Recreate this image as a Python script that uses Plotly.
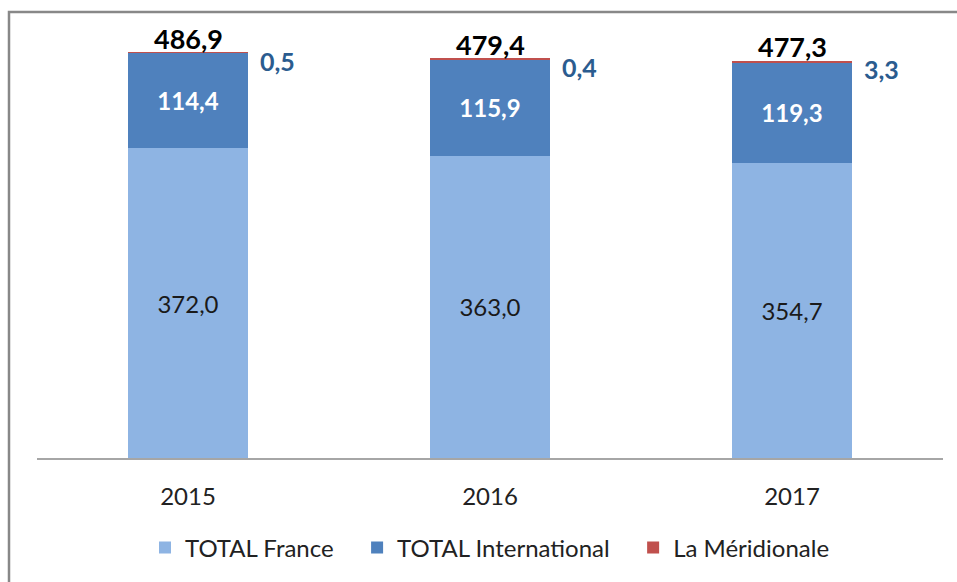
import plotly.graph_objects as go

years = ["2015", "2016", "2017"]
france = [372.0, 363.0, 354.7]
international = [114.4, 115.9, 119.3]
meridionale = [0.5, 0.4, 3.3]
totals = [486.9, 479.4, 477.3]
series_names = ["TOTAL France", "TOTAL International", "La Méridionale"]

def fr(v):
    return f"{v:.1f}".replace(".", ",")

FONT = "Lato"
PAD = "\u00a0\u00a0\u00a0"
fig = go.Figure()
fig.add_bar(x=years, y=france, name=series_names[0] + PAD, marker_color="#8EB4E3",
            marker_line_width=0,
            text=[fr(v) for v in france], textposition="inside", insidetextanchor="middle",
            textfont=dict(family=FONT, size=24, color="#1a1a1a"), textangle=0)
fig.add_bar(x=years, y=international, name=series_names[1] + PAD, marker_color="#4F81BD",
            marker_line_width=0,
            text=[fr(v) for v in international], textposition="inside", insidetextanchor="middle",
            textfont=dict(family=FONT, size=24, color="white", weight="bold"), textangle=0)
fig.add_bar(x=years, y=meridionale, name=series_names[2], marker_color="#C0504D",
            marker_line_width=0, textposition="none")

annotations = []
for i, (t, m) in enumerate(zip(totals, meridionale)):
    annotations.append(dict(x=i, y=t, xref="x", yref="y", text=f"<b>{fr(t)}</b>", showarrow=False,
                            yanchor="bottom", xanchor="center", yshift=-4,
                            font=dict(family=FONT, size=27, color="black")))
    annotations.append(dict(x=i, y=t, xref="x", yref="y", text=f"<b>{fr(m)}</b>", showarrow=False,
                            yanchor="top", xanchor="left", xshift=70, yshift=9,
                            font=dict(family=FONT, size=25, color="#2B5C8F")))

L, R, T, B = 37, 14, 40, 124
pw = 957 - L - R
ph = 582 - T - B

fig.update_layout(
    barmode="stack", bargap=0.6,
    width=957, height=582,
    margin=dict(l=L, r=R, t=T, b=B, pad=0),
    paper_bgcolor="white", plot_bgcolor="white",
    font=dict(family=FONT, size=20, color="#222"),
    xaxis=dict(type="category", categoryorder="array", categoryarray=years,
               range=[-0.5, 2.5], autorange=False,
               showline=True, linecolor="#A6A6A6", linewidth=2, showgrid=False,
               ticks="outside", ticklen=16, tickcolor="rgba(0,0,0,0)",
               tickfont=dict(family=FONT, size=24, color="#222")),
    yaxis=dict(range=[0, 502], autorange=False, visible=False),
    showlegend=True,
    legend=dict(orientation="h", x=0.5, xanchor="center", y=(458 - 548) / ph, yanchor="middle",
                font=dict(family=FONT, size=24, color="#222"), traceorder="normal",
                itemwidth=30),
    annotations=annotations,
    shapes=[dict(type="rect", xref="paper", yref="paper",
                 x0=(9 - L) / pw, x1=(990 - L) / pw,
                 y0=(458 - 12) / ph, y1=(458 - 620) / ph,
                 line=dict(color="#888888", width=2.5), fillcolor="rgba(0,0,0,0)", layer="below")],
)
fig.write_html("out.html")
